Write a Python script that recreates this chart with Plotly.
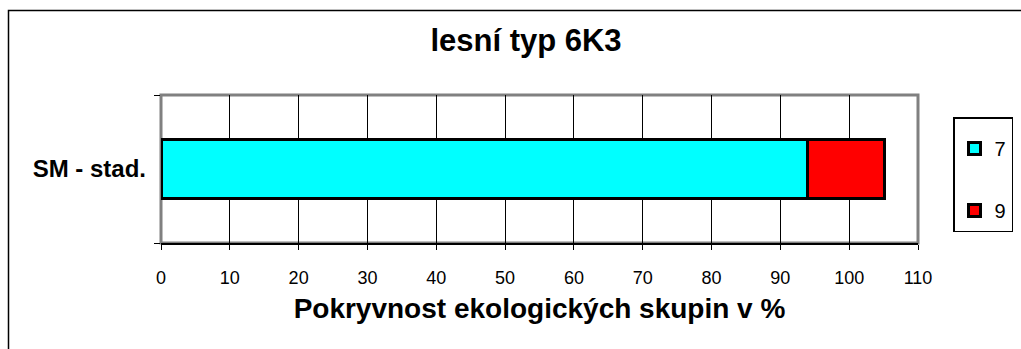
import plotly.graph_objects as go

categories = ["SM - stad."]
series_names = ["7", "9"]
series_values = [[94.0], [11.2]]
series_colors = ["#00FFFF", "#FF0000"]
x_ticks = [0, 10, 20, 30, 40, 50, 60, 70, 80, 90, 100, 110]

W, H = 1021, 349
L, R, T, B = 161, 103, 95, 106
pw, ph = W - L - R, H - T - B

def px_x(p):
    return (p - L) / pw

def px_y(p):
    return 1 - (p - T) / ph

fig = go.Figure()
for i, (name, vals, col) in enumerate(zip(series_names, series_values, series_colors)):
    fig.add_trace(go.Bar(
        y=categories, x=vals, name=name, orientation="h",
        marker=dict(color=col, line=dict(color="black", width=3)),
        width=0.405, legendgroup=name,
    ))

font = "Liberation Sans, Arial, sans-serif"
fig.update_layout(
    width=W, height=H,
    barmode="stack",
    paper_bgcolor="white", plot_bgcolor="white",
    margin=dict(l=L, r=R, t=T, b=B, autoexpand=False),
    font=dict(family=font, color="black"),
    title=dict(text="<b>lesní typ 6K3</b>", font=dict(size=31, family=font),
               x=526 / W, xanchor="center", xref="container",
               y=1 - 40 / H, yanchor="middle", yref="container"),
    showlegend=True,
    legend=dict(x=px_x(953), y=px_y(117), xanchor="left", yanchor="top",
                bordercolor="black", borderwidth=1.5, bgcolor="white",
                font=dict(size=20, family=font), tracegroupgap=33,
                traceorder="grouped", itemwidth=30,
                entrywidth=38, entrywidthmode="pixels",
                title=dict(text=" ", font=dict(size=8))),
    xaxis=dict(range=[0, 110], tickvals=x_ticks, ticktext=[str(t) for t in x_ticks],
               showgrid=True, gridcolor="#000000", gridwidth=1,
               ticks="outside", ticklen=5, tickcolor="black", tickwidth=1,
               showline=True, linecolor="black", linewidth=2,
               tickfont=dict(size=18, family=font), zeroline=False,
               ticklabelstandoff=12,
               title=dict(text="<b>Pokryvnost ekologických skupin v %</b>",
                          font=dict(size=28, family=font), standoff=12)),
    yaxis=dict(range=[-0.5, 0.5], tickson="boundaries", ticks="outside", ticklen=6,
               tickcolor="black", showgrid=False, showline=False, zeroline=False,
               tickfont=dict(size=24, family=font), ticklabelstandoff=14,
               ticktext=["<b>SM - stad.</b>"], tickvals=categories),
)

shapes = [
    # plot area gray border
    dict(type="rect", xref="paper", yref="paper", x0=0, y0=0, x1=1, y1=1,
         line=dict(color="#808080", width=3), layer="below"),
    # outer chart frame
    dict(type="rect", xref="paper", yref="paper",
         x0=px_x(8.5), y0=px_y(360), x1=px_x(1030), y1=px_y(10.5),
         line=dict(color="black", width=1.5)),
]
fig.update_layout(shapes=shapes)

fig.write_html("out.html")
